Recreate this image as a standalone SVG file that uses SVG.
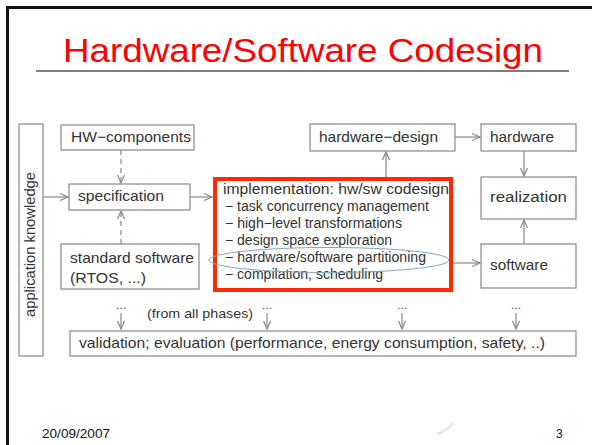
<svg xmlns="http://www.w3.org/2000/svg" width="592" height="445" viewBox="0 0 592 445">
<defs>
<style>
.box{fill:#fff;stroke:#888;stroke-width:1.2}
.t{font-family:"Liberation Sans",Arial,sans-serif;fill:#333}
.c{stroke:#888;stroke-width:1.2;fill:none}
.d{stroke-dasharray:5,4}
</style>
<marker id="ah" markerUnits="userSpaceOnUse" markerWidth="10" markerHeight="8" refX="8" refY="3.5" orient="auto" overflow="visible">
<path d="M0,0 L8,3.5 L0,7" fill="none" stroke="#888" stroke-width="1.2"/>
</marker>
</defs>
<rect x="0" y="0" width="592" height="445" fill="#fff"/>
<path d="M7.5,445 V7.5 H592" fill="none" stroke="#111" stroke-width="3"/>
<text x="63" y="62" font-family="Liberation Sans,Arial,sans-serif" font-size="33" fill="#ff0000" textLength="480" lengthAdjust="spacingAndGlyphs">Hardware/Software Codesign</text>
<line x1="36" y1="71" x2="569" y2="71" stroke="#555" stroke-width="1.5"/>

<g id="connectors">
<line class="c" x1="43" y1="197" x2="68" y2="197" marker-end="url(#ah)"/>
<line class="c d" x1="121" y1="150" x2="121" y2="183" marker-end="url(#ah)"/>
<line class="c d" x1="121" y1="244" x2="121" y2="211" marker-end="url(#ah)"/>
<line class="c" x1="190" y1="197" x2="212" y2="197" marker-end="url(#ah)"/>
<line class="c" x1="386" y1="177" x2="386" y2="152" marker-end="url(#ah)"/>
<line class="c" x1="455" y1="137" x2="480" y2="137" marker-end="url(#ah)"/>
<line class="c" x1="524" y1="151" x2="524" y2="176" marker-end="url(#ah)"/>
<line class="c" x1="524" y1="244" x2="524" y2="220" marker-end="url(#ah)"/>
<line class="c" x1="453" y1="263" x2="480" y2="263" marker-end="url(#ah)"/>
<line class="c" x1="121" y1="313" x2="121" y2="329" marker-end="url(#ah)"/>
<line class="c" x1="267" y1="313" x2="267" y2="329" marker-end="url(#ah)"/>
<line class="c" x1="402" y1="313" x2="402" y2="329" marker-end="url(#ah)"/>
<line class="c" x1="516" y1="313" x2="516" y2="329" marker-end="url(#ah)"/>
<text class="t" x="121" y="309" font-size="11" text-anchor="middle">…</text>
<text class="t" x="267" y="309" font-size="11" text-anchor="middle">…</text>
<text class="t" x="402" y="309" font-size="11" text-anchor="middle">…</text>
<text class="t" x="516" y="309" font-size="11" text-anchor="middle">…</text>
<text class="t" x="147" y="318" font-size="13.5" textLength="106" lengthAdjust="spacingAndGlyphs">(from all phases)</text>
</g>

<g id="app-knowledge">
<rect class="box" x="19" y="124" width="24" height="232"/>
<text class="t" transform="translate(35,317) rotate(-90)" font-size="14.5" textLength="145" lengthAdjust="spacingAndGlyphs">application knowledge</text>
</g>
<g id="hw-components">
<rect class="box" x="61" y="125" width="133" height="25"/>
<text class="t" x="71" y="142" font-size="15" textLength="120" lengthAdjust="spacingAndGlyphs">HW−components</text>
</g>
<g id="specification">
<rect class="box" x="69" y="184" width="121" height="26"/>
<text class="t" x="78" y="201" font-size="15" textLength="86" lengthAdjust="spacingAndGlyphs">specification</text>
</g>
<g id="standard-software">
<rect class="box" x="61" y="244" width="138" height="45"/>
<text class="t" x="70" y="263" font-size="15" textLength="124" lengthAdjust="spacingAndGlyphs">standard software</text>
<text class="t" x="70" y="283" font-size="15" textLength="76" lengthAdjust="spacingAndGlyphs">(RTOS, ...)</text>
</g>
<g id="implementation">
<rect x="215" y="179" width="236" height="111" fill="#fff" stroke="#ff2a00" stroke-width="4"/>
<text class="t" x="223" y="194" font-size="15.5" textLength="226" lengthAdjust="spacingAndGlyphs">implementation: hw/sw codesign</text>
<text class="t" x="225" y="211" font-size="14" textLength="204" lengthAdjust="spacingAndGlyphs">− task concurrency management</text>
<text class="t" x="225" y="228" font-size="14" textLength="177" lengthAdjust="spacingAndGlyphs">− high−level transformations</text>
<text class="t" x="225" y="245" font-size="14" textLength="167" lengthAdjust="spacingAndGlyphs">− design space exploration</text>
<text class="t" x="225" y="262" font-size="14" textLength="201" lengthAdjust="spacingAndGlyphs">− hardware/software partitioning</text>
<text class="t" x="225" y="279" font-size="14" textLength="158" lengthAdjust="spacingAndGlyphs">− compilation, scheduling</text>
<ellipse cx="329" cy="260" rx="120" ry="12.5" fill="none" stroke="#7fa8b8" stroke-width="1"/>
</g>
<g id="hardware-design">
<rect class="box" x="310" y="124" width="145" height="27"/>
<text class="t" x="319" y="142" font-size="15" textLength="119" lengthAdjust="spacingAndGlyphs">hardware−design</text>
</g>
<g id="hardware">
<rect class="box" x="481" y="124" width="95" height="27"/>
<text class="t" x="490" y="142" font-size="15" textLength="64" lengthAdjust="spacingAndGlyphs">hardware</text>
</g>
<g id="realization">
<rect class="box" x="481" y="177" width="95" height="42"/>
<text class="t" x="490" y="202" font-size="15.5" textLength="77" lengthAdjust="spacingAndGlyphs">realization</text>
</g>
<g id="software">
<rect class="box" x="481" y="244" width="95" height="44"/>
<text class="t" x="490" y="270" font-size="15" textLength="58" lengthAdjust="spacingAndGlyphs">software</text>
</g>
<g id="validation">
<rect class="box" x="70" y="331" width="506" height="25"/>
<text class="t" x="79" y="348" font-size="15" textLength="466" lengthAdjust="spacingAndGlyphs">validation; evaluation (performance, energy consumption, safety, ..)</text>
</g>

<text x="42" y="438" font-family="Liberation Sans,Arial,sans-serif" font-size="12" fill="#111" textLength="68" lengthAdjust="spacingAndGlyphs">20/09/2007</text>
<text x="556" y="438" font-family="Liberation Sans,Arial,sans-serif" font-size="12" fill="#111">3</text>
<path d="M437,434 Q448,430 453,423" fill="none" stroke="#ddd" stroke-width="1.5"/>
</svg>
